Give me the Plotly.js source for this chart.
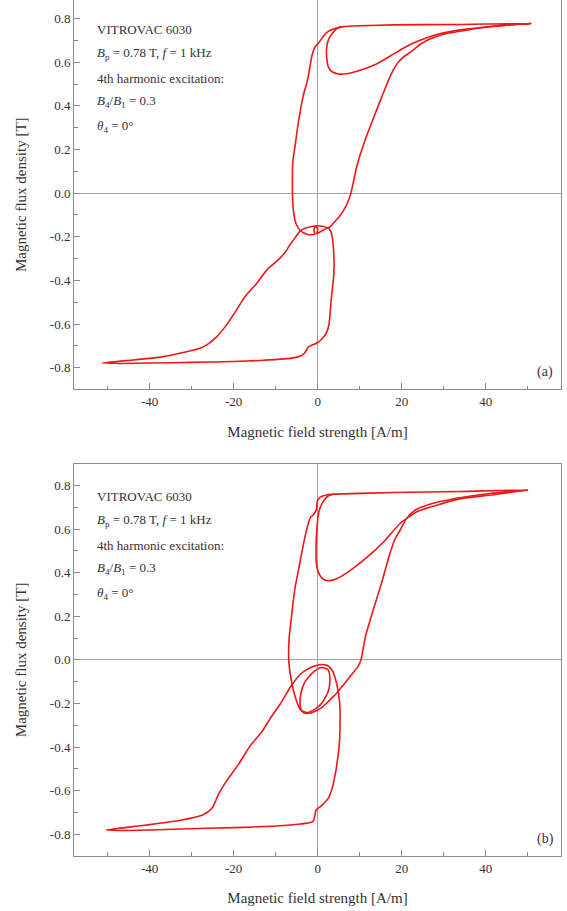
<!DOCTYPE html>
<html>
<head>
<meta charset="utf-8">
<script src="https://cdn.plot.ly/plotly-3.0.1.min.js"></script>
<style>html,body{margin:0;padding:0;background:#fff;}#chart{width:567px;height:911px;}</style>
</head>
<body>
<div id="chart"></div>
<script>
// ---------- Panel (a) ----------
// lower loop: negative tip -> bottom line -> right ascending branch -> upper arc of small loop -> left descending branch -> tip
const aLowerH = [-51.3,-48.5,-46.5,-40,-30,-20,-13.7,-8,-5.5,-4.2,-3.2,-2.6,-2.2,-1.5,0,0.8,1.6,2.2,2.7,3.0,3.2,3.5,3.8,3.9,3.8,3.6,3.2,2.5,1.3,-0.2,-1.4,-3.0,-4.2,-5.4,-6.6,-7.7,-9.4,-12.1,-14.5,-17.3,-19.3,-21.7,-24,-26.4,-28,-31.2,-37.5,-45.5,-51.3];
const aLowerB = [-0.778,-0.780,-0.781,-0.779,-0.776,-0.772,-0.767,-0.760,-0.754,-0.748,-0.735,-0.718,-0.705,-0.698,-0.686,-0.672,-0.655,-0.635,-0.600,-0.540,-0.490,-0.440,-0.380,-0.330,-0.270,-0.220,-0.180,-0.161,-0.153,-0.150,-0.153,-0.161,-0.174,-0.205,-0.237,-0.270,-0.306,-0.352,-0.413,-0.474,-0.535,-0.604,-0.658,-0.696,-0.711,-0.727,-0.752,-0.768,-0.778];
// upper loop: positive tip -> top line -> left branch -> lower arc with knot -> right branch -> tip
const aUpperH = [50.8,40,33.9,18,10.1,6.1,4.5,3.3,2.5,1.3,0.3,-0.64,-1.4,-2.1,-2.6,-3.4,-4.2,-4.8,-5.4,-5.9,-6.0,-6.0,-5.8,-5.2,-4.2,-3.4,-2.2,-1.2,-0.64,-0.9,-0.5,0,-0.2,0.55,1.7,2.9,4.0,5.3,6.5,7.3,7.9,9.3,11.3,13.4,15.6,17.6,18.8,20.5,22,24.3,26.3,29.9,33.9,40,45,50.8];
const aUpperB = [0.777,0.775,0.773,0.771,0.767,0.763,0.757,0.749,0.741,0.718,0.690,0.670,0.627,0.550,0.505,0.450,0.370,0.300,0.214,0.150,0.100,0.000,-0.077,-0.138,-0.170,-0.182,-0.191,-0.190,-0.188,-0.170,-0.153,-0.165,-0.186,-0.178,-0.166,-0.155,-0.132,-0.104,-0.068,-0.035,0.000,0.122,0.244,0.350,0.459,0.550,0.590,0.625,0.645,0.680,0.703,0.728,0.742,0.760,0.770,0.777];
// minor lobe near positive saturation
const aLobeH = [5.5,4.4,3.3,2.5,2.1,2.2,2.6,3.5,4.9,6.9,10.1,14,18,20.5,22.8,26,29,33.9,41.8,50.8];
const aLobeB = [0.762,0.752,0.728,0.700,0.660,0.611,0.575,0.555,0.546,0.547,0.563,0.592,0.637,0.665,0.688,0.712,0.730,0.748,0.765,0.777];

// ---------- Panel (b) ----------
const bLowerH = [-50.3,-47,-44.7,-40,-32.6,-20,-15.3,-8,-4.1,-1.5,-0.9,-0.7,-0.4,0.7,1.8,2.6,3.3,3.8,4.4,4.9,5.2,5.3,5.3,5.0,4.4,3.5,2.2,0.5,-1.8,-4.2,-6.6,-9,-11,-13.3,-16.2,-18.7,-21.8,-23.5,-25.2,-27.4,-32.6,-41.2,-50.3];
const bLowerB = [-0.781,-0.783,-0.783,-0.781,-0.776,-0.770,-0.767,-0.760,-0.753,-0.745,-0.735,-0.715,-0.690,-0.672,-0.652,-0.632,-0.600,-0.560,-0.500,-0.430,-0.370,-0.300,-0.220,-0.160,-0.100,-0.050,-0.025,-0.022,-0.036,-0.067,-0.128,-0.205,-0.260,-0.330,-0.398,-0.475,-0.559,-0.613,-0.682,-0.712,-0.736,-0.759,-0.781];
const bUpperH = [50,33.9,18,6.1,2.1,0.6,-0.1,-0.3,-1.0,-1.8,-2.6,-3.2,-4.0,-4.6,-5.4,-6.0,-6.4,-6.8,-6.9,-6.5,-5.8,-5.0,-4.2,-3.3,-1.8,-0.24,1.0,2.1,3.3,4.5,6.1,7.7,9.6,10.3,11.4,13.3,15.3,16.9,18.3,19.6,21,23,26.5,33,41,50];
const bUpperB = [0.780,0.773,0.768,0.762,0.757,0.747,0.728,0.690,0.667,0.652,0.600,0.550,0.470,0.410,0.330,0.240,0.170,0.100,0.000,-0.070,-0.138,-0.191,-0.226,-0.243,-0.244,-0.232,-0.218,-0.199,-0.176,-0.153,-0.115,-0.076,-0.030,0.000,0.110,0.235,0.360,0.470,0.550,0.595,0.645,0.685,0.713,0.742,0.764,0.780];
const bLobeH = [4,2.5,1.5,0.6,0.1,-0.2,-0.4,-0.35,0.1,1.0,2.1,3.3,4.5,7.7,11.7,15.6,19.6,23.6,27.5,33.9,41.8,50];
const bLobeB = [0.761,0.752,0.732,0.700,0.660,0.600,0.520,0.450,0.405,0.375,0.364,0.365,0.372,0.410,0.470,0.540,0.626,0.680,0.705,0.740,0.758,0.780];
const bInnerH = [-3.8,-4.2,-4.0,-3.0,-1.0,0.9,2.5,2.9,2.5,0.95,-0.64,-2.6,-3.8];
const bInnerB = [-0.232,-0.205,-0.153,-0.100,-0.055,-0.035,-0.046,-0.090,-0.145,-0.199,-0.226,-0.242,-0.232];

// ---------- Axis ticks ----------
const xTickVals = [-40,-20,0,20,40];
const xTickText = ['-40','-20','0','20','40'];
const xMinorVals = [-50,-30,-10,10,30,50];
const yTickVals = [-0.8,-0.6,-0.4,-0.2,0,0.2,0.4,0.6,0.8];
const yTickText = ['-0.8','-0.6','-0.4','-0.2','0.0','0.2','0.4','0.6','0.8'];
const yMinorVals = [-0.9,-0.7,-0.5,-0.3,-0.1,0.1,0.3,0.5,0.7,0.9];

// ---------- Texts ----------
const infoLines = ['VITROVAC 6030',
  '<i>B</i><sub>p</sub> = 0.78 T, <i>f</i> = 1 kHz',
  '4th harmonic excitation:',
  '<i>B</i><sub>4</sub>/<i>B</i><sub>1</sub> = 0.3',
  '<i>θ</i><sub>4</sub> = 0°'];
const infoY = [0.752, 0.638, 0.525, 0.418, 0.305];
const panelLabels = ['(a)', '(b)'];
const xTitle = 'Magnetic field strength [A/m]';
const yTitle = 'Magnetic flux density [T]';

function join(parts) {
  const xs = [], ys = [];
  parts.forEach((p, i) => {
    if (i > 0) { xs.push(null); ys.push(null); }
    xs.push(...p[0]); ys.push(...p[1]);
  });
  return [xs, ys];
}
const red = 'rgb(238,22,22)';
const A = join([[aLowerH, aLowerB], [aUpperH, aUpperB], [aLobeH, aLobeB]]);
const Bp = join([[bLowerH, bLowerB], [bUpperH, bUpperB], [bLobeH, bLobeB], [bInnerH, bInnerB]]);

const traces = [
  {x: A[0], y: A[1], xaxis: 'x', yaxis: 'y', type: 'scatter', mode: 'lines', connectgaps: false,
   line: {color: red, width: 1.6, shape: 'spline', smoothing: 0.6}, hoverinfo: 'skip'},
  {x: Bp[0], y: Bp[1], xaxis: 'x2', yaxis: 'y2', type: 'scatter', mode: 'lines', connectgaps: false,
   line: {color: red, width: 1.6, shape: 'spline', smoothing: 0.6}, hoverinfo: 'skip'}
];

const axCol = '#8a8a8a';
function xAx(anchor, mirror, standoff) {
  return {anchor: anchor, domain: [0, 1], range: [-58, 57.9], tickmode: 'array', tickvals: xTickVals, ticktext: xTickText,
    ticks: 'inside', ticklen: 6, tickcolor: axCol, tickwidth: 1, showline: true, linecolor: axCol, linewidth: 1,
    mirror: mirror, showgrid: false, zeroline: true, zerolinecolor: '#a3a3a3', zerolinewidth: 1,
    minor: {tickmode: 'array', tickvals: xMinorVals, ticks: 'inside', ticklen: 3.5, tickcolor: axCol, showgrid: false},
    tickfont: {size: 13, color: '#333'},
    title: {text: xTitle, font: {size: 15, color: '#333'}, standoff: standoff}};
}
function yAx(anchor, domain, range) {
  return {anchor: anchor, domain: domain, range: range, tickmode: 'array', tickvals: yTickVals, ticktext: yTickText,
    ticks: 'inside', ticklen: 6, tickcolor: axCol, tickwidth: 1, showline: true, linecolor: axCol, linewidth: 1,
    mirror: true, showgrid: false, zeroline: true, zerolinecolor: '#a3a3a3', zerolinewidth: 1,
    minor: {tickmode: 'array', tickvals: yMinorVals, ticks: 'inside', ticklen: 3.5, tickcolor: axCol, showgrid: false},
    tickfont: {size: 13, color: '#333'},
    title: {text: yTitle, font: {size: 15, color: '#333'}, standoff: 19}};
}

const annotations = [];
[['x', 'y'], ['x2', 'y2']].forEach((ref, k) => {
  infoLines.forEach((t, i) => {
    annotations.push({xref: ref[0], yref: ref[1], x: -52.9, y: infoY[i], text: t, showarrow: false,
      xanchor: 'left', yanchor: 'middle', font: {size: 13, color: '#333'}});
  });
  annotations.push({xref: ref[0], yref: ref[1], x: 54.2, y: -0.82, text: panelLabels[k], showarrow: false,
    xanchor: 'center', yanchor: 'middle', font: {size: 14, color: '#333'}});
});

const layout = {
  width: 567, height: 911,
  margin: {l: 74, r: 6, t: 0, b: 0},
  paper_bgcolor: '#fff', plot_bgcolor: '#fff', showlegend: false,
  font: {family: '"Liberation Serif", "Times New Roman", serif', size: 13, color: '#333'},
  xaxis: xAx('y', false, 18),
  yaxis: yAx('x', [0.5725, 1], [-0.9, 0.885]),
  xaxis2: xAx('y2', true, 17),
  yaxis2: yAx('x2', [0.0604, 0.4909], [-0.9, 0.9]),
  annotations: annotations
};

Plotly.newPlot('chart', traces, layout, {staticPlot: true, displayModeBar: false});
</script>
</body>
</html>
